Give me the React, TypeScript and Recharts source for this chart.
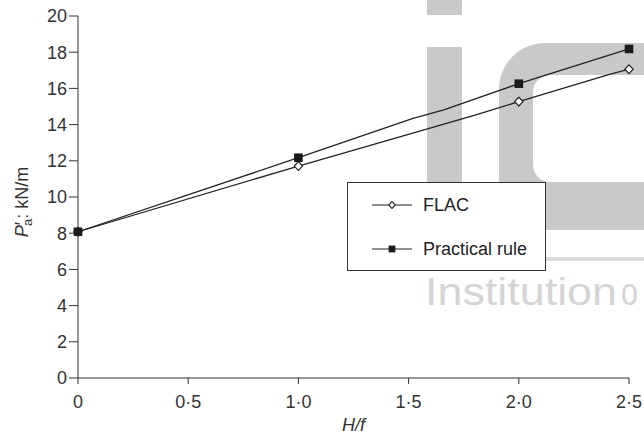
import React from 'react';
import { LineChart, Line, XAxis, YAxis, Legend } from 'recharts';

const seriesNames = ['FLAC', 'Practical rule'];

// measured points (drawn with markers)
const markerX = [0, 1, 2, 2.5];
const flacMarkers = [8.08, 11.71, 15.27, 17.06];
const practicalMarkers = [8.08, 12.17, 16.26, 18.18];

// traced line paths, with the small bends between the markers
const flacPathX = [0, 1, 1.79, 2, 2.4, 2.5];
const flacPathY = [8.08, 11.71, 14.48, 15.27, 16.74, 17.06];
const practicalPathX = [0, 1, 1.52, 1.66, 2, 2.5];
const practicalPathY = [8.08, 12.17, 14.35, 14.81, 16.26, 18.18];

const xTicks = [0, 0.5, 1, 1.5, 2, 2.5];
const yTicks = [0, 2, 4, 6, 8, 10, 12, 14, 16, 18, 20];

const zip = (xs: number[], ys: number[]) => xs.map((x, i) => ({ x, y: ys[i] }));

const flacPath = zip(flacPathX, flacPathY);
const practicalPath = zip(practicalPathX, practicalPathY);
const flacPoints = zip(markerX, flacMarkers);
const practicalPoints = zip(markerX, practicalMarkers);

const FONT = '"Liberation Sans", Arial, sans-serif';
const INK = '#222';

const fmtX = (v: number) => (v === 0 ? '0' : v.toFixed(1).replace('.', '·'));

const diamond = (cx: number, cy: number, r: number) =>
  `M${cx},${cy - r}L${cx + r * 0.95},${cy}L${cx},${cy + r}L${cx - r * 0.95},${cy}Z`;

const DiamondDot = (props: any) => {
  const { cx, cy, index } = props;
  if (cx == null || cy == null) return <g key={index} />;
  return <path key={index} d={diamond(cx, cy, 4.4)} fill="#fff" stroke={INK} strokeWidth={1.2} />;
};

const SquareDot = (props: any) => {
  const { cx, cy, index } = props;
  if (cx == null || cy == null) return <g key={index} />;
  return <rect key={index} x={cx - 4.3} y={cy - 4.3} width={8.6} height={8.6} fill="#1a1a1a" />;
};

const YLabel = () => (
  <text
    x={28}
    y={202}
    transform="rotate(-90, 28, 202)"
    textAnchor="middle"
    fontFamily={FONT}
    fontSize={18}
    fill="#333"
  >
    <tspan fontStyle="italic">P</tspan>
    <tspan>′</tspan>
    <tspan fontSize={13} dx={-4} dy={4}>a</tspan>
    <tspan dy={-4}>: kN/m</tspan>
  </text>
);

const XLabel = () => (
  <text x={353.5} y={431} textAnchor="middle" fontFamily={FONT} fontSize={18} fontStyle="italic" fill="#333">
    H/f
  </text>
);

const LegendBox = () => (
  <div
    style={{
      width: 199,
      height: 89,
      boxSizing: 'border-box',
      border: '1px solid #333',
      background: '#fff',
      fontFamily: FONT,
      fontSize: 18,
      color: '#222',
      position: 'relative',
    }}
  >
    {seriesNames.map((name, i) => (
      <div key={name} style={{ position: 'absolute', left: 23, top: i === 0 ? 11 : 55, height: 22, display: 'flex', alignItems: 'center' }}>
        <svg width={42} height={22}>
          <line x1={1} x2={41} y1={11} y2={11} stroke={INK} strokeWidth={1.2} />
          {i === 0 ? (
            <path d={diamond(21, 11, 3.4)} fill="#fff" stroke={INK} strokeWidth={1.1} />
          ) : (
            <rect x={17.6} y={7.6} width={6.8} height={6.8} fill="#1a1a1a" />
          )}
        </svg>
        <span style={{ marginLeft: 10, lineHeight: '22px' }}>{name}</span>
      </div>
    ))}
  </div>
);

const Watermark = () => (
  <svg width={644} height={434} style={{ position: 'absolute', left: 0, top: 0 }}>
    <g fill="#c9c9c9">
      <rect x={427} y={0} width={35} height={15} />
      <rect x={427} y={47} width={35} height={213} />
      <path
        fillRule="evenodd"
        d="M644,43 H545 A46,46 0 0 0 499,89 V184 A46,46 0 0 0 545,230 H644 Z M644,75 H550 A17,17 0 0 0 533,92 V165 A17,17 0 0 0 550,182 H644 Z"
      />
    </g>
    <rect x={462} y={257} width={182} height={4} fill="#dddddd" />
    <g fill="#d4d4d4" fontFamily={FONT} fontSize={38}>
      <text x={425} y={305} textLength={192} lengthAdjust="spacingAndGlyphs">Institution</text>
      <text x={621} y={305} textLength={17} lengthAdjust="spacingAndGlyphs">o</text>
    </g>
  </svg>
);

export default function App() {
  return (
    <div style={{ position: 'absolute', left: 0, top: 0, width: 644, height: 434, background: '#fff' }}>
      <Watermark />
      <div style={{ position: 'absolute', left: 0, top: 0 }}>
        <LineChart width={644} height={434} margin={{ top: 16, right: 15, left: 0, bottom: 0 }}>
          <XAxis
            dataKey="x"
            type="number"
            domain={[0, 2.5]}
            ticks={xTicks}
            interval={0}
            tickFormatter={fmtX}
            height={56}
            stroke="#333"
            tickSize={6}
            tickMargin={11}
            tick={{ fill: '#333', fontSize: 18, fontFamily: FONT }}
            label={<XLabel />}
          />
          <YAxis
            type="number"
            domain={[0, 20]}
            ticks={yTicks}
            interval={0}
            width={78}
            stroke="#333"
            tickSize={9}
            tickMargin={2}
            tick={{ fill: '#333', fontSize: 18, fontFamily: FONT }}
            label={<YLabel />}
          />
          <Legend layout="horizontal" verticalAlign="middle" align="center" content={<LegendBox />}
            wrapperStyle={{ left: 347, top: 182, width: 199, height: 89 }} />
          <Line data={flacPath} dataKey="y" name="FLAC" type="linear" stroke={INK} strokeWidth={1.3} dot={false} isAnimationActive={false} legendType="none" />
          <Line data={practicalPath} dataKey="y" name="Practical rule" type="linear" stroke={INK} strokeWidth={1.3} dot={false} isAnimationActive={false} legendType="none" />
          <Line data={flacPoints} dataKey="y" name="FLAC points" stroke="none" dot={DiamondDot} activeDot={false} isAnimationActive={false} legendType="none" />
          <Line data={practicalPoints} dataKey="y" name="Practical points" stroke="none" dot={SquareDot} activeDot={false} isAnimationActive={false} legendType="none" />
        </LineChart>
      </div>
    </div>
  );
}
